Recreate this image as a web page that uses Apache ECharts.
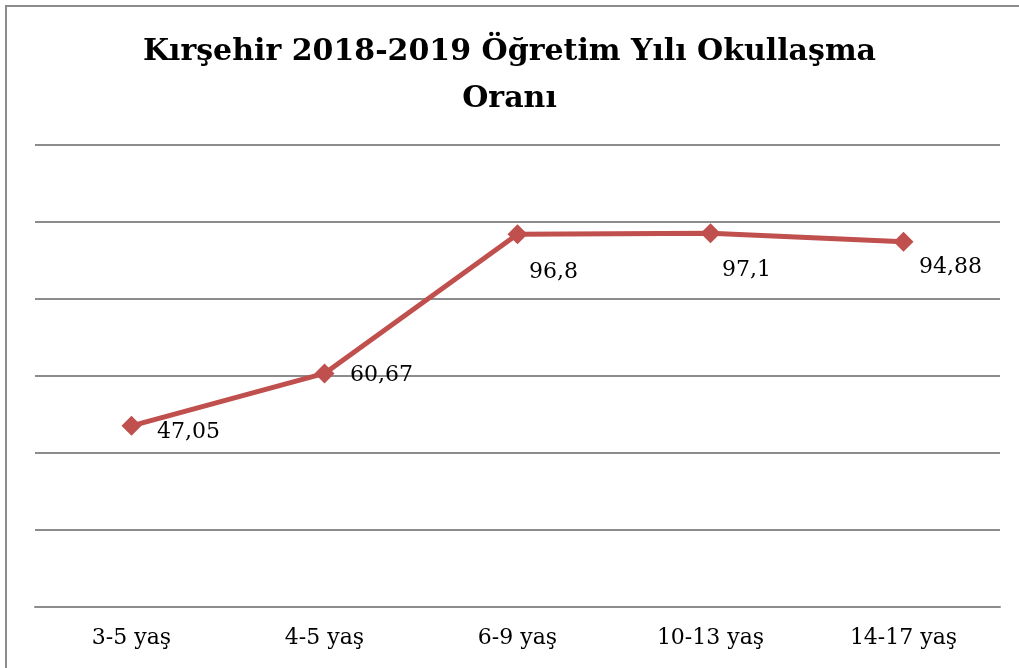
<!DOCTYPE html>
<html>
<head>
<meta charset="utf-8">
<script src="https://cdn.jsdelivr.net/npm/echarts@6/dist/echarts.min.js"></script>
<style>
  html, body { margin: 0; padding: 0; background: #fff; overflow: hidden; }
  #frame {
    position: absolute; left: 5px; top: 5px; width: 1100px; height: 800px;
    border-left: 2px solid #8c8c8c; border-top: 2px solid #8c8c8c;
  }
  #main { position: absolute; left: 0; top: 0; width: 1019px; height: 668px; }
</style>
</head>
<body>
<div id="frame"></div>
<div id="main"></div>
<script>
// kategoriler ve değerler
const categories = ["3-5 yaş", "4-5 yaş", "6-9 yaş", "10-13 yaş", "14-17 yaş"];
const values = [47.05, 60.67, 96.8, 97.1, 94.88];
const labelTexts = ["47,05", "60,67", "96,8", "97,1", "94,88"];

// etiket konumları (nokta merkezine göre kaydırma)
const labelOffsets = [[57, 6], [57, 2], [36, 38], [36, 37], [47, 26]];

const serif = "'DejaVu Serif', 'Liberation Serif', serif";

let myChart = echarts.init(document.getElementById("main"));
let option = {
  animation: false,
  title: {
    text: "Kırşehir 2018-2019 Öğretim Yılı Okullaşma\nOranı",
    left: "center",
    top: 24,
    textStyle: {
      fontFamily: serif,
      fontWeight: "bold",
      fontSize: 30,
      lineHeight: 47,
      color: "#000"
    }
  },
  grid: { left: 35, right: 19, top: 145, bottom: 61 },
  xAxis: {
    type: "category",
    data: categories,
    axisLine: { lineStyle: { color: "#8c8c8c", width: 2 } },
    axisTick: { show: false },
    axisLabel: { fontFamily: serif, fontSize: 22, color: "#000", margin: 20 }
  },
  yAxis: {
    type: "value",
    min: 0,
    max: 120,
    interval: 20,
    axisLabel: { show: false },
    axisLine: { show: false },
    axisTick: { show: false },
    splitLine: { lineStyle: { color: "#8c8c8c", width: 2 } }
  },
  series: [
    {
      type: "line",
      data: values.map((v, i) => ({
        value: v,
        label: {
          show: true,
          position: "inside",
          offset: labelOffsets[i],
          formatter: labelTexts[i]
        }
      })),
      symbol: "diamond",
      symbolSize: 20,
      lineStyle: { color: "#C0504D", width: 5 },
      itemStyle: { color: "#C0504D" },
      label: { fontFamily: serif, fontSize: 22, color: "#000" }
    }
  ]
};
option && myChart.setOption(option);
</script>
</body>
</html>
